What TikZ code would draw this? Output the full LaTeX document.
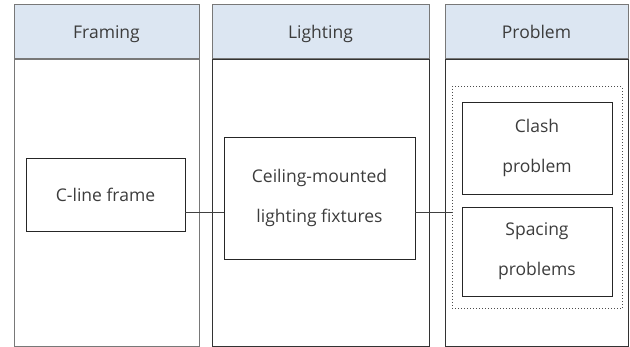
\documentclass[tikz,border=0pt]{standalone}
\usepackage{fontspec}
\setmainfont{Open Sans}
\definecolor{headblue}{RGB}{220, 230, 242}
\definecolor{colgray}{RGB}{120, 120, 120}
\definecolor{textgray}{RGB}{60, 60, 60}
\usetikzlibrary{positioning, calc}

\tikzset{
  colhead/.style={draw=colgray, fill=headblue, line width=1pt, minimum width=#1, minimum height=54pt, inner sep=0pt, text height=18pt, text depth=4pt, font=\fontsize{17.5}{20}\selectfont, text=textgray},
  colbody/.style={draw=colgray, line width=1pt, minimum width=#1, minimum height=287pt, inner sep=0pt},
  itembox/.style={draw=black!85, line width=0.8pt, align=center, inner sep=0pt, font=\fontsize{17.5}{40}\selectfont, text=textgray},
  groupbox/.style={draw=black!70, dotted, line width=1pt, inner sep=0pt}
}

\begin{document}
\begin{tikzpicture}[x=1pt, y=-1pt]
  \useasboundingbox (0,0) rectangle (630,347);

  % Column headers
  \node[colhead=185pt] (hframe) at (106.5, 32) {Framing};
  \node[colhead=217pt] (hlight) at (320.5, 32) {Lighting};
  \node[colhead=183pt] (hprob) at (536.5, 32) {Problem};

  % Column bodies
  \node[colbody=185pt, below=0pt of hframe] (bframe) {};
  \node[colbody=217pt, below=0pt of hlight, draw=black!80] (blight) {};
  \node[colbody=183pt, below=0pt of hprob, draw=black!80] (bprob) {};

  % Items
  \node[itembox, minimum width=159pt, minimum height=73pt] (cline) at (105.5, 194.5) {C-line frame};
  \node[itembox, minimum width=191pt, minimum height=122pt] (ceiling) at (319.5, 198) {Ceiling-mounted\\lighting fixtures};
  \node[groupbox, minimum width=170pt, minimum height=222pt] (probs) at (537, 198) {};
  \node[itembox, minimum width=150pt, minimum height=92pt] (clash) at (537, 148) {Clash\\problem};
  \node[itembox, minimum width=150pt, minimum height=89pt] (spacing) at (537, 251.5) {Spacing\\problems};

  % Links
  \coordinate (link) at (0, 212);
  \draw[black!75, line width=0.8pt] (cline.east |- link) -- (ceiling.west |- link);
  \draw[black!75, line width=0.8pt] (ceiling.east |- link) -- (probs.west |- link);
\end{tikzpicture}
\end{document}
